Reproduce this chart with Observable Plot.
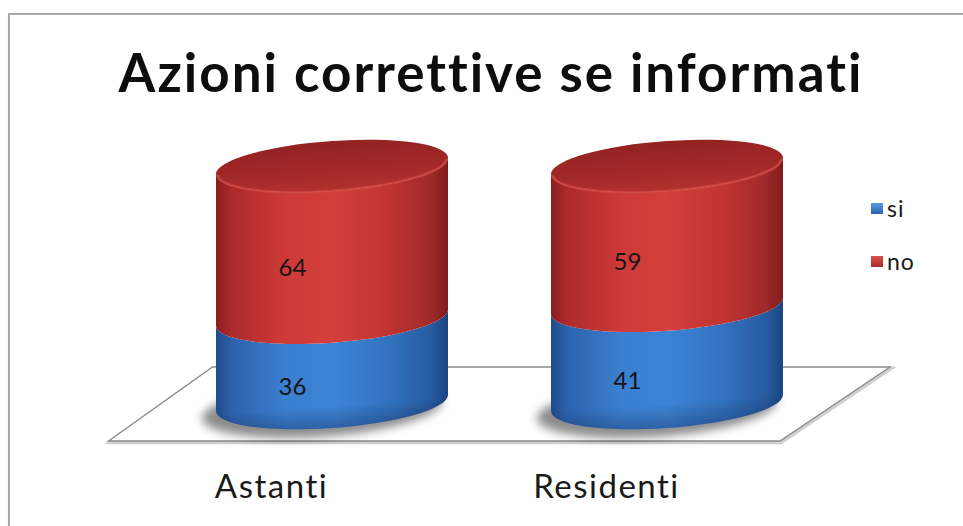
<!DOCTYPE html>
<html><head><meta charset="utf-8">
<script src="https://cdn.jsdelivr.net/npm/d3@7"></script>
<script src="https://cdn.jsdelivr.net/npm/@observablehq/plot@0.6"></script>
<style>
html,body{margin:0;padding:0;background:#fff;width:963px;height:526px;overflow:hidden;font-family:Lato,"Open Sans",sans-serif;}
#wrap{position:relative;width:963px;height:526px;}
#frame{position:absolute;left:8px;top:13px;width:1000px;height:600px;border:2px solid #a8a8a8;box-shadow:1px 1px 2px rgba(0,0,0,0.25);}
#title{position:absolute;left:0;width:982px;top:40px;text-align:center;font-weight:700;font-size:53px;letter-spacing:2px;line-height:64px;color:#0d0d0d;}
#chart{position:absolute;left:0;top:0;}
#legend{position:absolute;left:871px;top:194px;font-size:23px;letter-spacing:1px;color:#1a1a1a;}
#legend .it{display:flex;align-items:center;height:28px;margin-bottom:25px;}
#legend .sw{width:12px;height:11px;margin-right:4px;}
</style>
</head><body>
<div id="wrap">
  <div id="frame"></div>
  <div id="title">Azioni correttive se informati</div>
  <div id="chart"></div>
  <div id="legend"></div>
</div>
<script>
const categories = ["Astanti", "Residenti"];
const risposte = ["si", "no"];
const siValues = [36, 41];
const noValues = [64, 59];

const table = [];
categories.forEach((c, i) => {
  table.push({categoria: c, risposta: "si", valore: siValues[i]});
  table.push({categoria: c, risposta: "no", valore: noValues[i]});
});

function defsMark() {
  const g = d3.create("svg:g");
  const defs = g.append("defs");
  const grad = (id, stops, x2 = "100%", y2 = "0%") => {
    const lg = defs.append("linearGradient").attr("id", id)
      .attr("x1", "0%").attr("y1", "0%").attr("x2", x2).attr("y2", y2);
    stops.forEach(([o, c]) => lg.append("stop").attr("offset", o).attr("stop-color", c));
  };
  grad("bodyRed", [["0%", "#8a1d1d"], ["7%", "#ad2b2b"], ["30%", "#cd3a37"], ["50%", "#d43e3b"], ["75%", "#c03432"], ["93%", "#a02828"], ["100%", "#801c1c"]]);
  grad("bodyBlue", [["0%", "#1f4a8a"], ["7%", "#2d62ad"], ["30%", "#3a7fd0"], ["50%", "#3d84d6"], ["75%", "#3272c0"], ["93%", "#275a9f"], ["100%", "#1c4480"]]);
  grad("capRed", [["0%", "#932222"], ["60%", "#a22928"], ["100%", "#b4312e"]], "0%", "100%");
  grad("shadeV", [["0%", "rgba(0,0,0,0)"], ["80%", "rgba(0,0,0,0)"], ["100%", "rgba(0,0,30,0.25)"]], "0%", "100%");
  const f = defs.append("filter").attr("id", "blurSh").attr("x", "-30%").attr("y", "-60%").attr("width", "160%").attr("height", "220%");
  f.append("feGaussianBlur").attr("stdDeviation", 5);
  return g.node();
}

function floorMark(index, scales) {
  const sx = scales.x, sy = scales.y;
  const [xa, xb] = sx.range();
  const y0 = sy(0);
  const pts = [[xa - 4, y0 + 38], [xb - 107, y0 + 38], [xb + 3, y0 - 36], [xa + 100, y0 - 36]];
  const d = "M" + pts.map(p => p.join(",")).join("L") + "Z";
  const g = d3.create("svg:g");
  g.append("path").attr("d", d)
    .attr("fill", "#fff").attr("stroke", "#cfcfcf").attr("stroke-width", 3.5).attr("transform", "translate(1,1.5)");
  g.append("path").attr("d", d)
    .attr("fill", "#fff").attr("stroke", "#8c8c8c").attr("stroke-width", 1.4);
  return g.node();
}

function cylinderMark(index, scales) {
  const sx = scales.x, sy = scales.y;
  const bw = typeof sx.bandwidth === "function" ? sx.bandwidth() : sx.bandwidth;
  const rx = bw / 2, ry = 25, k = -0.07;
  const g = d3.create("svg:g");
  categories.forEach((c, i) => {
    const cx = sx(c) + rx;
    const cg = g.append("g").attr("transform", `translate(${cx},0) matrix(1,${k},0,1,0,0)`);
    const vals = [siValues[i], noValues[i]];
    const fills = ["url(#bodyBlue)", "url(#bodyRed)"];
    cg.append("ellipse").attr("cx", -10).attr("cy", sy(0) + 6).attr("rx", rx + 4).attr("ry", ry + 2)
      .attr("fill", "rgba(0,0,0,0.45)").attr("filter", "url(#blurSh)");
    let acc = 0;
    vals.forEach((v, j) => {
      const y0 = sy(acc), y1 = sy(acc + v);
      acc += v;
      const d = `M${-rx},${y1}L${-rx},${y0}A${rx},${ry} 0 0 0 ${rx},${y0}L${rx},${y1}A${rx},${ry} 0 0 1 ${-rx},${y1}Z`;
      cg.append("path").attr("d", d).attr("fill", fills[j]);
      if (j === 0) cg.append("path").attr("d", d).attr("fill", "url(#shadeV)");
    });
    const yt = sy(acc);
    cg.append("ellipse").attr("cx", 0).attr("cy", yt).attr("rx", rx).attr("ry", ry).attr("fill", "url(#capRed)");
    cg.append("path").attr("d", `M${-rx + 2},${yt + 1}A${rx - 2},${ry - 1} 0 0 0 ${rx - 2},${yt + 1}`)
      .attr("fill", "none").attr("stroke", "#d24a44").attr("stroke-width", 2.5).attr("opacity", 0.7);
  });
  return g.node();
}

const chart = Plot.plot({
  width: 963,
  height: 526,
  marginLeft: 112.5,
  marginRight: 76,
  marginTop: 166,
  marginBottom: 123,
  x: {domain: categories, type: "band", padding: 0.3085, axis: null},
  y: {domain: [0, 100], axis: null},
  style: {background: "transparent", fontFamily: "Lato, 'Open Sans', sans-serif", overflow: "visible"},
  marks: [
    defsMark,
    floorMark,
    cylinderMark,
    Plot.text(table, Plot.stackY({
      x: "categoria", y: "valore", z: "risposta",
      text: d => String(d.valore),
      dx: -40, dy: 26, fontSize: 24, fill: "#141414"
    })),
    Plot.text(categories, {
      x: d => d, frameAnchor: "bottom", dx: -61, dy: 84,
      fontSize: 33, fill: "#1a1a1a", lineAnchor: "middle",
      style: "letter-spacing:1.5px"
    })
  ]
});
document.getElementById("chart").appendChild(chart);
chart.querySelectorAll("text").forEach(t => {
  if (categories.includes(t.textContent)) t.style.letterSpacing = "1.5px";
});

const legend = document.getElementById("legend");
const swGrad = ["linear-gradient(#5b9be0,#2a62b0)", "linear-gradient(#e0504a,#a82828)"];
risposte.forEach((r, i) => {
  const it = document.createElement("div");
  it.className = "it";
  const sw = document.createElement("div");
  sw.className = "sw";
  sw.style.background = swGrad[i];
  it.appendChild(sw);
  const t = document.createElement("span");
  t.textContent = r;
  it.appendChild(t);
  legend.appendChild(it);
});
</script>
</body></html>
